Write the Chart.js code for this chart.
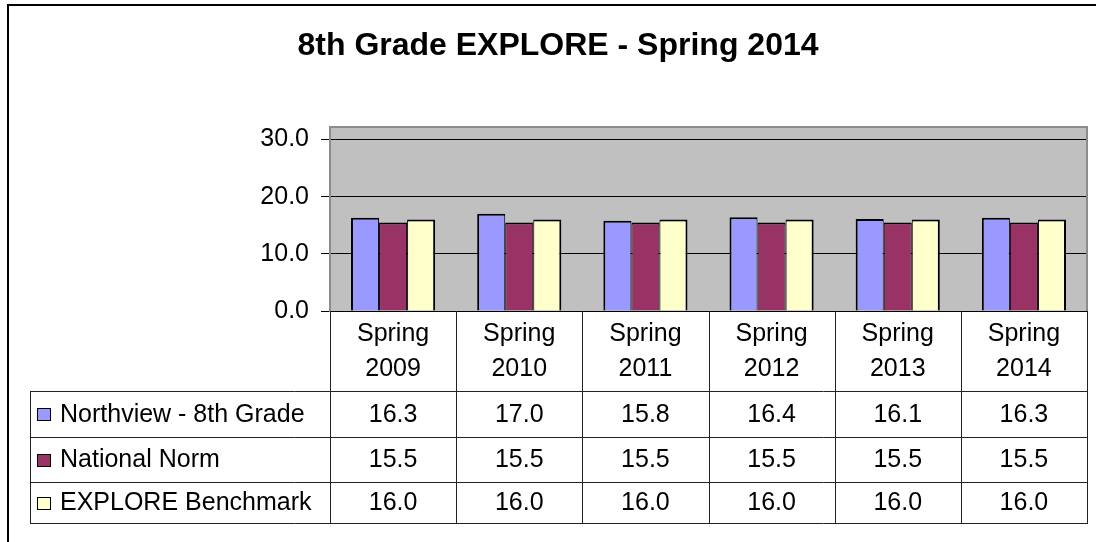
<!DOCTYPE html>
<html>
<head>
<meta charset="utf-8">
<title>8th Grade EXPLORE - Spring 2014</title>
<script src="https://cdn.jsdelivr.net/npm/chart.js@4.4.1/dist/chart.umd.min.js"></script>
<style>
  html, body { margin: 0; padding: 0; background: #fff; }
  canvas { display: block; }
</style>
</head>
<body>
<canvas id="exploreChart" width="1096" height="542"></canvas>
<script>
// data dibaca dari tabel di gambar
const categories = ['Spring 2009', 'Spring 2010', 'Spring 2011', 'Spring 2012', 'Spring 2013', 'Spring 2014'];
const seriesNames = ['Northview - 8th Grade', 'National Norm', 'EXPLORE Benchmark'];
const northview = [16.3, 17.0, 15.8, 16.4, 16.1, 16.3];
const nationalNorm = [15.5, 15.5, 15.5, 15.5, 15.5, 15.5];
const benchmark = [16.0, 16.0, 16.0, 16.0, 16.0, 16.0];
const yTicks = [0, 10, 20, 30];
const chartTitle = '8th Grade EXPLORE - Spring 2014';

const seriesColors = ['#9999FF', '#993366', '#FFFFCC'];
const FONT = '"Liberation Sans", Arial, Helvetica, sans-serif';

// posisi garis baris tabel (layout)
const tableLeft = 30;
const rowLines = [391, 437, 482, 523];

// plugin: bingkai, latar plot, judul dan tabel data ala Excel
const excelTable = {
  id: 'excelTable',
  beforeDraw(chart) {
    const ctx = chart.ctx;
    const a = chart.chartArea;
    ctx.save();
    ctx.fillStyle = '#fff';
    ctx.fillRect(0, 0, chart.width, chart.height);
    // bingkai luar (keluar dari gambar di kanan & bawah)
    ctx.strokeStyle = '#000';
    ctx.lineWidth = 2;
    ctx.strokeRect(8, 5, chart.width + 20, chart.height + 20);
    // latar area plot
    ctx.fillStyle = '#C0C0C0';
    ctx.fillRect(a.left, a.top, a.right - a.left, a.bottom - a.top);
    ctx.restore();
  },
  beforeDatasetsDraw(chart) {
    const ctx = chart.ctx;
    const a = chart.chartArea;
    ctx.save();
    ctx.strokeStyle = '#8C8C8C';
    ctx.lineWidth = 2;
    ctx.beginPath();
    ctx.moveTo(a.left, a.top);
    ctx.lineTo(a.right, a.top);
    ctx.lineTo(a.right, a.bottom);
    ctx.stroke();
    ctx.restore();
  },
  afterDraw(chart) {
    const ctx = chart.ctx;
    const x = chart.scales.x;
    const a = chart.chartArea;
    const n = categories.length;
    const step = (x.right - x.left) / n;
    const bounds = [];
    for (let i = 0; i <= n; i++) bounds.push(Math.round(x.left + i * step) + 0.5);

    ctx.save();
    // judul
    ctx.fillStyle = '#000';
    ctx.font = 'bold 32px ' + FONT;
    ctx.textAlign = 'center';
    ctx.textBaseline = 'alphabetic';
    ctx.fillText(chartTitle, 558, 55);

    // garis tabel
    ctx.strokeStyle = '#222';
    ctx.lineWidth = 1;
    ctx.beginPath();
    bounds.forEach(bx => {
      ctx.moveTo(bx, a.bottom);
      ctx.lineTo(bx, rowLines[rowLines.length - 1]);
    });
    ctx.moveTo(tableLeft + 0.5, rowLines[0]);
    ctx.lineTo(tableLeft + 0.5, rowLines[rowLines.length - 1]);
    rowLines.forEach(ry => {
      ctx.moveTo(tableLeft, ry + 0.5);
      ctx.lineTo(bounds[n] + 0.5, ry + 0.5);
    });
    ctx.stroke();

    // isi baris: kunci legenda, nama seri, nilai
    const seriesData = [northview, nationalNorm, benchmark];
    ctx.font = '25px ' + FONT;
    ctx.textBaseline = 'middle';
    seriesData.forEach((vals, r) => {
      const cy = (rowLines[r] + rowLines[r + 1]) / 2;
      ctx.fillStyle = seriesColors[r];
      ctx.fillRect(37.5, Math.round(cy - 6) + 0.5, 13, 12);
      ctx.strokeStyle = '#000';
      ctx.strokeRect(37.5, Math.round(cy - 6) + 0.5, 13, 12);
      ctx.fillStyle = '#000';
      ctx.textAlign = 'left';
      ctx.fillText(seriesNames[r], 60, cy + 1);
      ctx.textAlign = 'center';
      vals.forEach((v, i) => {
        ctx.fillText(v.toFixed(1), x.getPixelForValue(i), cy + 1);
      });
    });
    ctx.restore();
  }
};

const ctx = document.getElementById('exploreChart').getContext('2d');
const exploreChart = new Chart(ctx, {
  type: 'bar',
  data: {
    labels: categories.map(c => c.split(' ')),
    datasets: [northview, nationalNorm, benchmark].map((vals, i) => ({
      label: seriesNames[i],
      data: vals,
      backgroundColor: seriesColors[i],
      borderColor: '#000',
      borderWidth: { top: 2, left: i === 0 ? 2 : 1, right: i === 2 ? 2 : 1, bottom: 0 },
      borderSkipped: 'start',
      categoryPercentage: 0.667,
      barPercentage: 1.0
    }))
  },
  options: {
    responsive: false,
    devicePixelRatio: 1,
    animation: false,
    layout: { padding: { top: 127, right: 9, bottom: 0, left: 0 } },
    plugins: {
      legend: { display: false },
      title: { display: false },
      tooltip: { enabled: false }
    },
    scales: {
      x: {
        afterFit(scale) { scale.height = 231; },
        grid: { display: false },
        border: { display: false },
        ticks: {
          color: '#000',
          font: { family: FONT, size: 25, lineHeight: 1.4 },
          padding: -2.5,
          maxRotation: 0,
          autoSkip: false
        }
      },
      y: {
        min: 0,
        max: 32.2,
        afterFit(scale) { scale.width = 330; },
        afterBuildTicks(scale) { scale.ticks = yTicks.map(v => ({ value: v })); },
        grid: { color: '#000', lineWidth: 1, tickLength: 9 },
        border: { color: '#8C8C8C', width: 2 },
        ticks: {
          color: '#000',
          font: { family: FONT, size: 25 },
          padding: 12,
          callback: v => Number(v).toFixed(1)
        }
      }
    }
  },
  plugins: [excelTable]
});
</script>
</body>
</html>
